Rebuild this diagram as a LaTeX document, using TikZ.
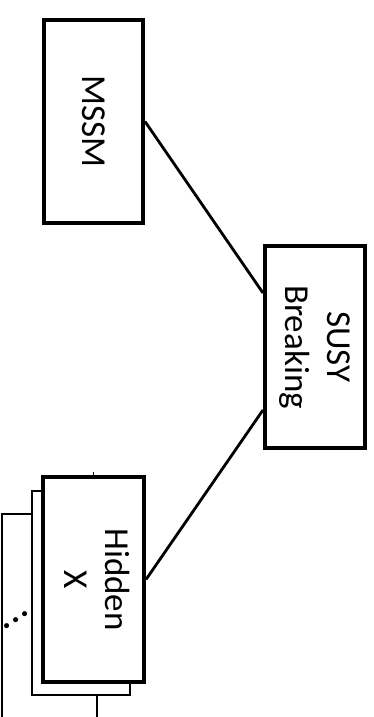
\documentclass[tikz,border=0pt]{standalone}
\usepackage{fontspec}
\usepackage{graphicx}
\usetikzlibrary{calc}
\setmainfont{Carlito}
\begin{document}
\begin{tikzpicture}[x=1pt,y=1pt,
  mainbox/.style={draw=black, line width=4pt, fill=white, inner sep=0pt},
  backbox/.style={draw=black, line width=2pt, fill=white, inner sep=0pt},
  link/.style={draw=black, line width=2.8pt},
  lbl/.style={font=\fontsize{34}{41}\selectfont, align=center}]
\useasboundingbox (0,0) rectangle (373,717);
\begin{scope}
\clip (0,0) rectangle (373,717);
% third (partly hidden) stacked box
\draw[line width=1.5pt, fill=white] (2,-30) rectangle (97,203);
% second stacked box
\node[backbox, minimum width=98pt, minimum height=204pt] (hback) at (81,124) {};
% front boxes
\node[mainbox, minimum width=99pt, minimum height=203pt] (mssm) at (93.5,595.5)
  {\rotatebox{-90}{\fontsize{35}{41}\selectfont MSSM}};
\node[mainbox, minimum width=100pt, minimum height=202pt] (susy) at (315,370)
  {\rotatebox{-90}{\fontsize{35}{42}\selectfont\begin{tabular}{@{}c@{}}SUSY\\Breaking\end{tabular}}};
\node[mainbox, minimum width=101pt, minimum height=205pt] (hidden) at (93.5,137.5)
  {\rotatebox{-90}{\fontsize{35}{41}\selectfont\begin{tabular}{@{}c@{}}Hidden\\X\end{tabular}}};
% dots
\node[lbl, anchor=base, rotate=33, inner sep=0pt] (dots) at (17.5,95) {\textbf{.\kern1.5pt.\kern1.5pt.}};
% connectors
\coordinate (sA) at ($(susy.west)+(0,54)$);
\coordinate (sB) at ($(susy.west)+(0,-63)$);
\draw[link] (mssm.east) -- (sA);
\draw[link] (hidden.east) -- (sB);
% small tick on top of hidden box
\coordinate (tk) at ($(hidden.north)+(0,3)$);
\draw[line width=1pt] ($(hidden.north)+(0,0)$) -- (tk);
\end{scope}
\end{tikzpicture}
\end{document}
